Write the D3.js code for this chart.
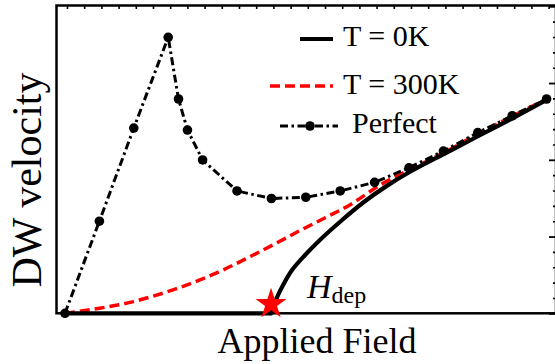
<!DOCTYPE html>
<html>
<head>
<meta charset="utf-8">
<script src="https://cdn.jsdelivr.net/npm/d3@7/dist/d3.min.js"></script>
<style>
  html, body { margin: 0; padding: 0; background: #fff; }
  svg { display: block; }
</style>
</head>
<body>
<svg id="chart" width="555" height="364"></svg>
<script>
// Perfect (defect-free) wire: velocity vs applied field
const perfectField = [0, 1, 2, 3, 3.3, 3.56, 4, 5, 6, 7, 8, 9, 10, 11, 12, 13, 14];
const perfectVel   = [0, 6.0, 12.07, 17.98, 13.96, 11.94, 9.99, 7.97, 7.48, 7.56, 7.97, 8.53, 9.48, 10.57, 11.77, 12.87, 13.96];

// T = 0K: pinned until the depinning field, then rises
const t0Field = [0, 5.99, 6.13, 6.34, 6.60, 6.98, 7.41, 7.99, 8.66, 9.30, 10.03, 11.05, 12.06, 13.02, 14];
const t0Vel   = [0, 0, 0.87, 1.84, 2.82, 3.80, 4.78, 5.95, 7.20, 8.22, 9.22, 10.42, 11.6, 12.72, 13.9];

// T = 300K: thermally activated creep below depinning
const t300Field = [0, 1.0, 1.99, 2.47, 3.2, 3.92, 4.65, 5.38, 6.1, 6.83, 7.55, 8.28, 9.16, 10.03, 11.05, 12.06, 13.02, 14];
const t300Vel   = [0, 0.33, 0.76, 1.06, 1.57, 2.17, 2.88, 3.69, 4.52, 5.39, 6.21, 7.06, 8.36, 9.37, 10.51, 11.75, 12.85, 13.96];

// Depinning field marker
const hDep = [5.99];
const hDepLevel = [0.6];

// Frame tick values
const topTicks = d3.range(0, 29).map(i => 0.058 + i * 0.5);
const rightMinor = d3.range(0, 21);
const rightMajor = [0, 5, 10, 15, 20];

const legendItems = ["T = 0K", "T = 300K", "Perfect"];

const SERIF = "Liberation Serif";

const svg = d3.select("#chart");
const frame = { left: 56.5, right: 556, top: 5.5, bottom: 313.3 };

const x = d3.scaleLinear().domain([0, 14]).range([65, 546.6]);
const y = d3.scaleLinear().domain([0, 20]).range([313.3, 6.3]);

const toPts = (xs, ys) => xs.map((v, i) => [v, ys[i]]);
const line = d3.line().x(d => x(d[0])).y(d => y(d[1]));
const smooth = d3.line().x(d => x(d[0])).y(d => y(d[1])).curve(d3.curveMonotoneX);
const spline = d3.line().x(d => x(d[0])).y(d => y(d[1])).curve(d3.curveCatmullRom.alpha(0.5));

// frame ticks (inward)
const topAxis = d3.axisTop(x).tickValues(topTicks).tickSize(-3.5).tickFormat("");
svg.append("g").attr("transform", `translate(0,${frame.top})`).call(topAxis)
  .call(g => g.select(".domain").remove())
  .selectAll("line").attr("stroke", "#000").attr("stroke-width", 1.6);

const rightAxisMinor = d3.axisRight(y).tickValues(rightMinor.filter(v => !rightMajor.includes(v))).tickSize(-3).tickFormat("");
svg.append("g").attr("transform", `translate(${frame.right},0)`).call(rightAxisMinor)
  .call(g => g.select(".domain").remove())
  .selectAll("line").attr("stroke", "#000").attr("stroke-width", 1.6);
const rightAxisMajor = d3.axisRight(y).tickValues(rightMajor).tickSize(-7).tickFormat("");
svg.append("g").attr("transform", `translate(${frame.right},0)`).call(rightAxisMajor)
  .call(g => g.select(".domain").remove())
  .selectAll("line").attr("stroke", "#000").attr("stroke-width", 1.8);

// plot frame
svg.append("rect")
  .attr("x", frame.left).attr("y", frame.top)
  .attr("width", frame.right - frame.left).attr("height", frame.bottom - frame.top)
  .attr("fill", "none").attr("stroke", "#000").attr("stroke-width", 2.5);

// T = 300K
svg.append("path").datum(toPts(t300Field, t300Vel))
  .attr("d", smooth).attr("fill", "none")
  .attr("stroke", "#ff0000").attr("stroke-width", 3.5)
  .attr("stroke-dasharray", "10,5");

// T = 0K: flat pinned part, then the depinned branch
const t0Pts = toPts(t0Field, t0Vel);
const iDep = t0Field.indexOf(hDep[0]);
svg.append("path").datum(t0Pts.slice(0, iDep + 1))
  .attr("d", line).attr("fill", "none")
  .attr("stroke", "#000").attr("stroke-width", 4.2);
svg.append("path").datum(t0Pts.slice(iDep))
  .attr("d", spline).attr("fill", "none")
  .attr("stroke", "#000").attr("stroke-width", 4.2)
  .attr("stroke-linecap", "round");

// Perfect
const perfectPts = toPts(perfectField, perfectVel);
svg.append("path").datum(perfectPts)
  .attr("d", line).attr("fill", "none")
  .attr("stroke", "#000").attr("stroke-width", 3)
  .attr("stroke-dasharray", "8,3.5,2.5,3.5");
svg.append("g").selectAll("circle").data(perfectPts).join("circle")
  .attr("cx", d => x(d[0])).attr("cy", d => y(d[1])).attr("r", 4.8).attr("fill", "#000");

// depinning field marker
svg.append("path")
  .attr("d", d3.symbol(d3.symbolStar, 300)())
  .attr("transform", `translate(${x(hDep[0])},${y(hDepLevel[0])})`)
  .attr("fill", "#ff0000");

const hLabel = svg.append("text").attr("x", 307).attr("y", 298)
  .style("font-family", SERIF).attr("font-size", 34);
hLabel.append("tspan").style("font-style", "italic").text("H");
hLabel.append("tspan").attr("font-size", 24).attr("dy", 5).text("dep");

// legend
const legend = svg.append("g");
legend.append("line").attr("x1", 300).attr("x2", 333).attr("y1", 39).attr("y2", 39)
  .attr("stroke", "#000").attr("stroke-width", 4.2);
legend.append("line").attr("x1", 270).attr("x2", 333).attr("y1", 86).attr("y2", 86)
  .attr("stroke", "#ff0000").attr("stroke-width", 3.5).attr("stroke-dasharray", "10,5");
legend.append("line").attr("x1", 280).attr("x2", 338).attr("y1", 126).attr("y2", 126)
  .attr("stroke", "#000").attr("stroke-width", 3).attr("stroke-dasharray", "8,3.5,2.5,3.5");
legend.append("circle").attr("cx", 310).attr("cy", 126).attr("r", 4.8).attr("fill", "#000");
legend.selectAll("text").data(legendItems).join("text")
  .attr("x", (d, i) => i === 2 ? 352 : 343)
  .attr("y", (d, i) => [45.5, 94, 133][i])
  .style("font-family", SERIF)
  .attr("font-size", 30)
  .text(d => d);

// axis titles
svg.append("text")
  .attr("transform", `translate(41,180) rotate(-90)`)
  .attr("text-anchor", "middle").style("font-family", SERIF).attr("font-size", 42)
  .text("DW velocity");
svg.append("text")
  .attr("x", 317).attr("y", 353)
  .attr("text-anchor", "middle").style("font-family", SERIF).attr("font-size", 36)
  .text("Applied Field");
</script>
</body>
</html>
